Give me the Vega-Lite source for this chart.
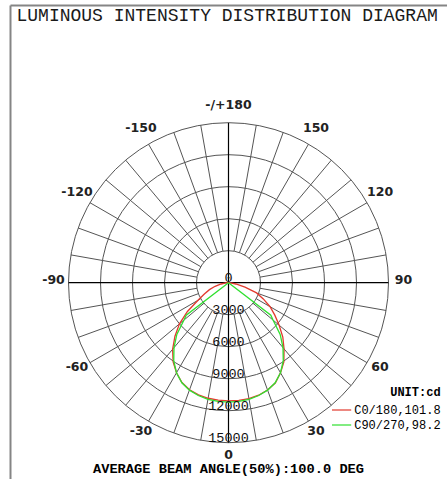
{
  "$schema": "https://vega.github.io/schema/vega-lite/v6.json",
  "width": 437,
  "height": 474,
  "autosize": {"type": "none"},
  "padding": {"left": 10, "top": 5, "right": 0, "bottom": 0},
  "background": "white",
  "title": {
    "text": "AVERAGE BEAM ANGLE(50%):100.0 DEG",
    "orient": "bottom",
    "anchor": "middle",
    "frame": "group",
    "offset": -17,
    "font": "Liberation Mono",
    "fontSize": 13.7,
    "fontWeight": "bold",
    "color": "#000000"
  },
  "config": {"view": {"stroke": null}},
  "datasets": {
    "rings": [{"cd": 3000}, {"cd": 6000}, {"cd": 9000}, {"cd": 12000}, {"cd": 15000}],
    "ringlabels": [{"cd": 0}, {"cd": 3000}, {"cd": 6000}, {"cd": 9000}, {"cd": 12000}, {"cd": 15000}],
    "spokes": [
      {"ang": 10}, {"ang": 20}, {"ang": 30}, {"ang": 40}, {"ang": 50}, {"ang": 60}, {"ang": 70}, {"ang": 80},
      {"ang": 100}, {"ang": 110}, {"ang": 120}, {"ang": 130}, {"ang": 140}, {"ang": 150}, {"ang": 160}, {"ang": 170},
      {"ang": -10}, {"ang": -20}, {"ang": -30}, {"ang": -40}, {"ang": -50}, {"ang": -60}, {"ang": -70}, {"ang": -80},
      {"ang": -100}, {"ang": -110}, {"ang": -120}, {"ang": -130}, {"ang": -140}, {"ang": -150}, {"ang": -160}, {"ang": -170}
    ],
    "axes": [{"ang": 0}, {"ang": 90}],
    "anglelabels": [
      {"ang": 0, "label": "0"}, {"ang": 30, "label": "30"}, {"ang": 60, "label": "60"}, {"ang": 90, "label": "90"},
      {"ang": 120, "label": "120"}, {"ang": 150, "label": "150"}, {"ang": 180, "label": "-/+180"},
      {"ang": -30, "label": "-30"}, {"ang": -60, "label": "-60"}, {"ang": -90, "label": "-90"},
      {"ang": -120, "label": "-120"}, {"ang": -150, "label": "-150"}
    ],
    "curves": [
      {"curve": "C0/180,101.8", "ang": -90, "cd": 0},
      {"curve": "C0/180,101.8", "ang": -85, "cd": 250},
      {"curve": "C0/180,101.8", "ang": -80, "cd": 700},
      {"curve": "C0/180,101.8", "ang": -75, "cd": 1300},
      {"curve": "C0/180,101.8", "ang": -70, "cd": 1900},
      {"curve": "C0/180,101.8", "ang": -65, "cd": 2500},
      {"curve": "C0/180,101.8", "ang": -60, "cd": 3300},
      {"curve": "C0/180,101.8", "ang": -55, "cd": 4700},
      {"curve": "C0/180,101.8", "ang": -50, "cd": 6000},
      {"curve": "C0/180,101.8", "ang": -45, "cd": 7100},
      {"curve": "C0/180,101.8", "ang": -40, "cd": 8150},
      {"curve": "C0/180,101.8", "ang": -35, "cd": 9050},
      {"curve": "C0/180,101.8", "ang": -30, "cd": 9750},
      {"curve": "C0/180,101.8", "ang": -25, "cd": 10330},
      {"curve": "C0/180,101.8", "ang": -20, "cd": 10680},
      {"curve": "C0/180,101.8", "ang": -15, "cd": 10880},
      {"curve": "C0/180,101.8", "ang": -10, "cd": 11000},
      {"curve": "C0/180,101.8", "ang": -5, "cd": 11060},
      {"curve": "C0/180,101.8", "ang": 0, "cd": 11080},
      {"curve": "C0/180,101.8", "ang": 5, "cd": 11080},
      {"curve": "C0/180,101.8", "ang": 10, "cd": 11030},
      {"curve": "C0/180,101.8", "ang": 15, "cd": 10920},
      {"curve": "C0/180,101.8", "ang": 20, "cd": 10700},
      {"curve": "C0/180,101.8", "ang": 25, "cd": 10380},
      {"curve": "C0/180,101.8", "ang": 30, "cd": 9750},
      {"curve": "C0/180,101.8", "ang": 35, "cd": 9050},
      {"curve": "C0/180,101.8", "ang": 40, "cd": 8100},
      {"curve": "C0/180,101.8", "ang": 45, "cd": 7200},
      {"curve": "C0/180,101.8", "ang": 50, "cd": 6200},
      {"curve": "C0/180,101.8", "ang": 55, "cd": 5300},
      {"curve": "C0/180,101.8", "ang": 60, "cd": 4500},
      {"curve": "C0/180,101.8", "ang": 65, "cd": 3600},
      {"curve": "C0/180,101.8", "ang": 70, "cd": 2800},
      {"curve": "C0/180,101.8", "ang": 75, "cd": 1600},
      {"curve": "C0/180,101.8", "ang": 80, "cd": 700},
      {"curve": "C0/180,101.8", "ang": 85, "cd": 200},
      {"curve": "C0/180,101.8", "ang": 90, "cd": 0},
      {"curve": "C90/270,98.2", "ang": -55, "cd": 0},
      {"curve": "C90/270,98.2", "ang": -52.5, "cd": 5000},
      {"curve": "C90/270,98.2", "ang": -50, "cd": 5450},
      {"curve": "C90/270,98.2", "ang": -45, "cd": 6850},
      {"curve": "C90/270,98.2", "ang": -40, "cd": 7950},
      {"curve": "C90/270,98.2", "ang": -35, "cd": 8950},
      {"curve": "C90/270,98.2", "ang": -30, "cd": 9750},
      {"curve": "C90/270,98.2", "ang": -25, "cd": 10350},
      {"curve": "C90/270,98.2", "ang": -20, "cd": 10720},
      {"curve": "C90/270,98.2", "ang": -15, "cd": 10950},
      {"curve": "C90/270,98.2", "ang": -10, "cd": 11100},
      {"curve": "C90/270,98.2", "ang": -5, "cd": 11170},
      {"curve": "C90/270,98.2", "ang": 0, "cd": 11200},
      {"curve": "C90/270,98.2", "ang": 5, "cd": 11170},
      {"curve": "C90/270,98.2", "ang": 10, "cd": 11100},
      {"curve": "C90/270,98.2", "ang": 15, "cd": 10950},
      {"curve": "C90/270,98.2", "ang": 20, "cd": 10720},
      {"curve": "C90/270,98.2", "ang": 25, "cd": 10350},
      {"curve": "C90/270,98.2", "ang": 30, "cd": 9750},
      {"curve": "C90/270,98.2", "ang": 35, "cd": 8950},
      {"curve": "C90/270,98.2", "ang": 40, "cd": 7950},
      {"curve": "C90/270,98.2", "ang": 45, "cd": 6850},
      {"curve": "C90/270,98.2", "ang": 50, "cd": 5450},
      {"curve": "C90/270,98.2", "ang": 52.5, "cd": 5000},
      {"curve": "C90/270,98.2", "ang": 55, "cd": 0}
    ]
  },
  "encoding": {
    "x": {
      "field": "px",
      "type": "quantitative",
      "scale": {"domain": [-20484, 20484], "nice": false, "zero": false},
      "axis": {
        "orient": "top",
        "title": "LUMINOUS INTENSITY DISTRIBUTION DIAGRAM",
        "titleX": 6,
        "titleY": 15,
        "titleAlign": "left",
        "titleBaseline": "alphabetic",
        "titleFont": "Liberation Mono",
        "titleFontSize": 18,
        "titleFontWeight": "normal",
        "titleColor": "#1a1a1a",
        "domain": true,
        "domainColor": "#858585",
        "domainWidth": 2,
        "ticks": false,
        "labels": false,
        "grid": false
      }
    },
    "y": {
      "field": "py",
      "type": "quantitative",
      "scale": {"domain": [-18403, 26034], "nice": false, "zero": false},
      "axis": {
        "orient": "left",
        "title": null,
        "domain": true,
        "domainColor": "#858585",
        "domainWidth": 2,
        "ticks": false,
        "labels": false,
        "grid": false
      }
    }
  },
  "layer": [
    {
      "data": {"name": "rings"},
      "transform": [
        {"calculate": "0", "as": "px"},
        {"calculate": "0", "as": "py"}
      ],
      "mark": {"type": "point", "filled": false, "shape": "circle", "color": "#555555", "strokeWidth": 1, "opacity": 1},
      "encoding": {
        "size": {
          "field": "cd",
          "type": "quantitative",
          "scale": {"type": "pow", "exponent": 2, "domain": [0, 15000], "range": [0, 102400]},
          "legend": null
        }
      }
    },
    {
      "data": {"name": "spokes"},
      "transform": [
        {"calculate": "3000 * sin(datum.ang * PI / 180)", "as": "px"},
        {"calculate": "-3000 * cos(datum.ang * PI / 180)", "as": "py"},
        {"calculate": "15000 * sin(datum.ang * PI / 180)", "as": "px2"},
        {"calculate": "-15000 * cos(datum.ang * PI / 180)", "as": "py2"}
      ],
      "mark": {"type": "rule", "color": "#555555", "strokeWidth": 1},
      "encoding": {
        "x2": {"field": "px2"},
        "y2": {"field": "py2"}
      }
    },
    {
      "data": {"name": "axes"},
      "transform": [
        {"calculate": "-15000 * sin(datum.ang * PI / 180)", "as": "px"},
        {"calculate": "15000 * cos(datum.ang * PI / 180)", "as": "py"},
        {"calculate": "15000 * sin(datum.ang * PI / 180)", "as": "px2"},
        {"calculate": "-15000 * cos(datum.ang * PI / 180)", "as": "py2"}
      ],
      "mark": {"type": "rule", "color": "#000000", "strokeWidth": 1.2},
      "encoding": {
        "x2": {"field": "px2"},
        "y2": {"field": "py2"}
      }
    },
    {
      "data": {"name": "curves"},
      "transform": [
        {"calculate": "datum.cd * sin(datum.ang * PI / 180)", "as": "px"},
        {"calculate": "-datum.cd * cos(datum.ang * PI / 180)", "as": "py"}
      ],
      "mark": {"type": "line", "strokeWidth": 1.3},
      "encoding": {
        "order": {"field": "ang", "type": "quantitative"},
        "color": {
          "field": "curve",
          "type": "nominal",
          "scale": {"domain": ["C0/180,101.8", "C90/270,98.2"], "range": ["#e23a2e", "#30e030"]},
          "legend": {
            "orient": "none",
            "legendX": 324.6,
            "legendY": 382,
            "title": "UNIT:cd",
            "titleFont": "Liberation Mono",
            "titleFontSize": 12,
            "titleFontWeight": "bold",
            "titleColor": "#000000",
            "titleAnchor": "end",
            "titlePadding": 4,
            "labelFont": "Liberation Mono",
            "labelFontSize": 12,
            "labelColor": "#000000",
            "symbolType": "M-1.6,0H1.6",
            "symbolSize": 144,
            "symbolStrokeWidth": 1.2,
            "labelOffset": 5.6,
            "rowPadding": 2,
            "padding": 0
          }
        }
      }
    },
    {
      "data": {"name": "ringlabels"},
      "transform": [
        {"calculate": "0", "as": "px"},
        {"calculate": "-datum.cd", "as": "py"}
      ],
      "mark": {"type": "text", "font": "Liberation Mono", "fontSize": 13.5, "color": "#111111", "baseline": "alphabetic", "align": "center", "dy": -1},
      "encoding": {
        "text": {"field": "cd", "type": "quantitative", "format": "d"}
      }
    },
    {
      "data": {"name": "anglelabels"},
      "transform": [
        {"calculate": "16406 * sin(datum.ang * PI / 180)", "as": "px"},
        {"calculate": "-16406 * cos(datum.ang * PI / 180)", "as": "py"}
      ],
      "mark": {"type": "text", "font": "DejaVu Sans", "fontSize": 12.5, "fontWeight": "bold", "color": "#222222", "baseline": "middle", "align": "center", "dy": -3},
      "encoding": {
        "text": {"field": "label", "type": "nominal"}
      }
    }
  ]
}
